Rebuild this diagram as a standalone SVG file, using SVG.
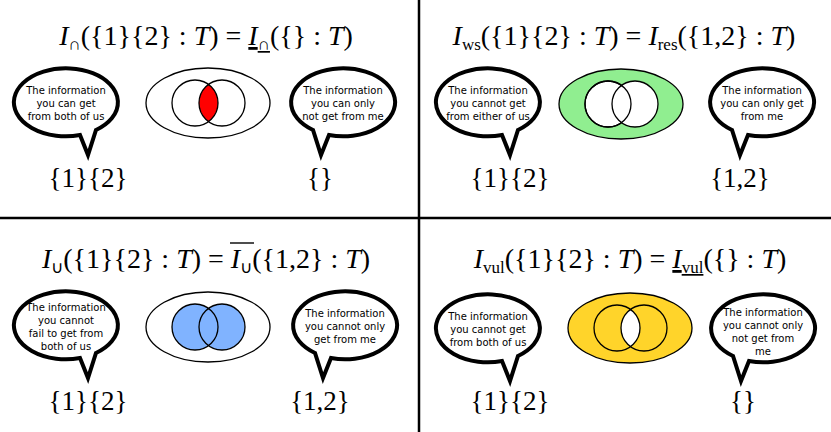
<svg xmlns="http://www.w3.org/2000/svg" width="831" height="432" viewBox="0 0 831 432">
<style>
.t{font-family:"Liberation Serif",serif;font-size:28px;fill:#000;text-anchor:middle}
.i{font-style:italic}
.s{font-size:17px}
.b{fill:#fff;stroke:#000;stroke-width:4}
.bt{font-family:"DejaVu Sans",sans-serif;font-size:10px;text-anchor:middle}
.set{font-family:"Liberation Serif",serif;font-size:27px;text-anchor:middle}
.o{stroke:#000;stroke-width:1.3}
.u{text-decoration:underline}
</style>
<defs>
<clipPath id="cL1"><circle cx="195" cy="103" r="23"/></clipPath>
<clipPath id="cL4"><circle cx="617" cy="328" r="23"/></clipPath>
</defs>
<rect width="831" height="432" fill="#fff"/>
<g id="dividers" stroke="#000" stroke-width="2.5"><line x1="419" y1="0" x2="419" y2="432"/><line x1="0" y1="218" x2="831" y2="218"/></g>

<g id="p1">
<text class="t" x="206" y="45"><tspan class="i">I</tspan><tspan class="s" dy="5">∩</tspan><tspan dy="-5">({1}{2} : </tspan><tspan class="i">T</tspan>) = <tspan class="i u">I</tspan><tspan class="s u" dy="5">∩</tspan><tspan dy="-5">({} : </tspan><tspan class="i">T</tspan>)</text>
<path class="b" d="M80,135 L88,155 L96,130 A52 34 0 1 0 80,135 Z"/>
<text class="bt" x="66" y="94">The information</text><text class="bt" x="66" y="107">you can get</text><text class="bt" x="66" y="120">from both of us</text>
<path class="b" d="M329,135 L321,155 L313,130 A52 34 0 1 1 329,135 Z"/>
<text class="bt" x="343" y="94">The information</text><text class="bt" x="343" y="107">you can only</text><text class="bt" x="343" y="120">not get from me</text>
<ellipse class="o" cx="208" cy="103" rx="62" ry="35" fill="#fff"/>
<circle cx="222" cy="103" r="23" fill="red" clip-path="url(#cL1)"/>
<circle class="o" cx="195" cy="103" r="23" fill="none"/><circle class="o" cx="222" cy="103" r="23" fill="none"/>
<text class="set" x="88" y="187">{1}{2}</text><text class="set" x="320" y="187">{}</text>
</g>

<g id="p2">
<text class="t" x="624" y="45"><tspan class="i">I</tspan><tspan class="s" dy="5">ws</tspan><tspan dy="-5">({1}{2} : </tspan><tspan class="i">T</tspan>) = <tspan class="i">I</tspan><tspan class="s" dy="5">res</tspan><tspan dy="-5">({1,2} : </tspan><tspan class="i">T</tspan>)</text>
<path class="b" d="M502,135 L510,155 L518,130 A52 34 0 1 0 502,135 Z"/>
<text class="bt" x="488" y="94">The information</text><text class="bt" x="488" y="107">you cannot get</text><text class="bt" x="488" y="120">from either of us</text>
<path class="b" d="M748,135 L740,155 L732,130 A52 34 0 1 1 748,135 Z"/>
<text class="bt" x="762" y="94">The information</text><text class="bt" x="762" y="107">you can only get</text><text class="bt" x="762" y="120">from me</text>
<ellipse class="o" cx="621" cy="104" rx="62" ry="35" fill="#90ee90"/>
<circle class="o" cx="608" cy="104" r="23" fill="#fff"/><circle class="o" cx="635" cy="104" r="23" fill="#fff"/><circle class="o" cx="608" cy="104" r="23" fill="none"/>
<text class="set" x="510" y="187">{1}{2}</text><text class="set" x="740" y="187">{1,2}</text>
</g>

<g id="p3">
<text class="t" x="206" y="268"><tspan class="i">I</tspan><tspan class="s" dy="5">∪</tspan><tspan dy="-5">({1}{2} : </tspan><tspan class="i">T</tspan>) = <tspan class="i">I</tspan><tspan class="s" dy="5">∪</tspan><tspan dy="-5">({1,2} : </tspan><tspan class="i">T</tspan>)</text>
<line x1="230" y1="243" x2="254" y2="243" stroke="#000" stroke-width="1.4"/>
<path class="b" d="M80,358 L88,378 L96,353 A52 34 0 1 0 80,358 Z"/>
<text class="bt" x="66" y="311">The information</text><text class="bt" x="66" y="324">you cannot</text><text class="bt" x="66" y="337">fail to get from</text><text class="bt" x="66" y="350">both of us</text>
<path class="b" d="M331,358 L323,378 L315,353 A52 34 0 1 1 331,358 Z"/>
<text class="bt" x="345" y="317">The information</text><text class="bt" x="345" y="330">you cannot only</text><text class="bt" x="345" y="343">get from me</text>
<ellipse class="o" cx="208" cy="327" rx="62" ry="35" fill="#fff"/>
<circle cx="195" cy="327" r="23" fill="#80b3ff"/><circle cx="222" cy="327" r="23" fill="#80b3ff"/>
<circle class="o" cx="195" cy="327" r="23" fill="none"/><circle class="o" cx="222" cy="327" r="23" fill="none"/>
<text class="set" x="88" y="410">{1}{2}</text><text class="set" x="320" y="410">{1,2}</text>
</g>

<g id="p4">
<text class="t" x="630" y="268"><tspan class="i">I</tspan><tspan class="s" dy="5">vul</tspan><tspan dy="-5">({1}{2} : </tspan><tspan class="i">T</tspan>) = <tspan class="i u">I</tspan><tspan class="s u" dy="5">vul</tspan><tspan dy="-5">({} : </tspan><tspan class="i">T</tspan>)</text>
<path class="b" d="M502,361 L510,381 L518,356 A52 34 0 1 0 502,361 Z"/>
<text class="bt" x="488" y="320">The information</text><text class="bt" x="488" y="333">you cannot get</text><text class="bt" x="488" y="346">from both of us</text>
<path class="b" d="M749,361 L741,381 L733,356 A52 34 0 1 1 749,361 Z"/>
<text class="bt" x="763" y="316">The information</text><text class="bt" x="763" y="329">you cannot only</text><text class="bt" x="763" y="342">not get from</text><text class="bt" x="763" y="355">me</text>
<ellipse class="o" cx="630" cy="328" rx="62" ry="35" fill="#ffd42a"/>
<circle cx="644" cy="328" r="23" fill="#fff" clip-path="url(#cL4)"/>
<circle class="o" cx="617" cy="328" r="23" fill="none"/><circle class="o" cx="644" cy="328" r="23" fill="none"/>
<text class="set" x="510" y="410">{1}{2}</text><text class="set" x="743" y="410">{}</text>
</g>
</svg>
